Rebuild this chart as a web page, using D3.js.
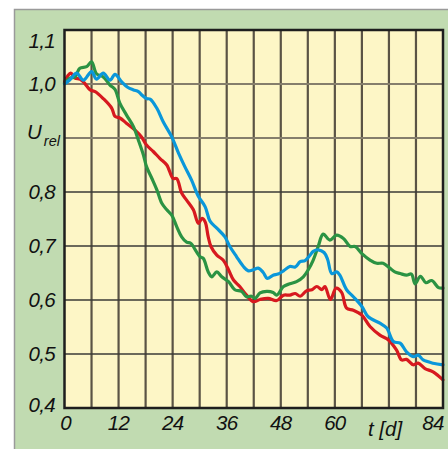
<!DOCTYPE html>
<html><head><meta charset="utf-8">
<script src="https://cdn.jsdelivr.net/npm/d3@7"></script>
<style>html,body{margin:0;padding:0;background:#fff;}svg{display:block;}</style>
</head><body>
<script>
// ---- data ----
const xTicks = [0, 12, 24, 36, 48, 60, 84];
const xGrid = [6, 12, 18, 24, 30, 36, 42, 48, 54, 60, 66, 72, 78];
const yTicks = [1.1, 1.0, 0.8, 0.7, 0.6, 0.5, 0.4];
const yGridLight = [1.0, 0.9];
const yGridDark = [0.8, 0.7, 0.6, 0.5];

const blueT = [0,1.2,2.7,4.2,6.0,7.1,8.6,10.1,11.2,12.7,14.0,15.3,16.4,17.1,18.2,19.0,20.5,21.9,23.8,25.3,26.7,28.2,29.7,31.2,32.3,33.8,35.6,36.7,38.2,39.7,40.8,41.9,43.0,44.1,45.0,46.3,47.4,48.6,50.0,51.2,52.3,53.4,54.5,55.2,56.3,57.6,58.4,59.3,60.4,61.1,62.6,64.1,66.0,67.4,70.0,71.5,73.0,74.5,75.9,77.4,78.5,79.6,81.8,84];
const blueV = [1.000,1.008,1.020,1.007,1.023,1.009,1.020,1.007,1.018,1.004,0.994,0.989,0.986,0.980,0.973,0.972,0.955,0.930,0.902,0.872,0.847,0.822,0.792,0.773,0.746,0.733,0.717,0.699,0.680,0.662,0.654,0.656,0.659,0.651,0.640,0.646,0.648,0.654,0.662,0.661,0.671,0.673,0.683,0.690,0.693,0.688,0.675,0.649,0.652,0.646,0.619,0.606,0.588,0.569,0.557,0.548,0.523,0.520,0.504,0.495,0.498,0.489,0.483,0.480];

const redT = [0,0.7,1.4,2.3,3.4,4.2,5.7,6.8,8.6,10.5,11.2,12.3,13.8,15.6,17.1,18.2,19.7,21.2,22.7,24.1,24.9,26.0,27.1,28.6,29.7,30.5,31.2,31.9,32.5,33.8,35.2,36.4,37.5,38.9,40.4,41.9,43.4,45.2,47.1,48.6,50.0,51.2,52.3,53.7,54.9,56.0,57.1,57.8,59.0,60.3,61.5,62.6,64.1,66.0,67.8,70.0,71.9,73.7,74.8,75.9,77.4,78.5,80.0,81.8,84];
const redV = [1.004,1.015,1.020,1.011,1.009,1.004,0.989,0.986,0.973,0.955,0.940,0.937,0.927,0.915,0.902,0.887,0.875,0.862,0.850,0.825,0.825,0.798,0.785,0.767,0.742,0.751,0.745,0.717,0.699,0.683,0.674,0.656,0.637,0.625,0.609,0.597,0.601,0.603,0.599,0.609,0.609,0.612,0.607,0.617,0.619,0.625,0.619,0.625,0.601,0.622,0.614,0.585,0.581,0.572,0.551,0.535,0.526,0.507,0.489,0.490,0.480,0.483,0.473,0.467,0.452];

const greenT = [0,1.2,2.3,3.4,4.9,6.0,7.1,8.6,10.1,11.2,12.3,13.8,15.3,16.4,17.5,18.2,19.4,20.5,21.6,22.7,23.8,24.9,26.0,27.1,28.0,29.3,30.1,30.8,31.9,32.7,33.8,34.9,36.4,37.8,39.3,40.4,41.5,42.3,43.4,44.9,46.3,47.1,48.6,50.0,51.5,53.0,54.1,55.2,56.3,57.4,58.9,60.4,61.9,63.4,64.5,66.0,67.8,69.3,70.7,72.2,73.3,74.5,75.9,77.0,77.8,79.0,80.2,81.5,83.0,84];
const greenV = [1.001,1.011,1.013,1.029,1.032,1.041,1.019,1.013,0.998,0.990,0.964,0.942,0.921,0.896,0.869,0.847,0.825,0.804,0.779,0.767,0.757,0.736,0.717,0.707,0.705,0.689,0.680,0.677,0.652,0.643,0.652,0.643,0.634,0.619,0.616,0.606,0.607,0.603,0.613,0.616,0.614,0.609,0.625,0.630,0.634,0.643,0.656,0.674,0.699,0.722,0.711,0.720,0.714,0.699,0.699,0.686,0.674,0.668,0.668,0.659,0.652,0.649,0.646,0.648,0.630,0.644,0.632,0.636,0.623,0.622];

const seriesColors = ["#d7191f", "#2b9343", "#0a97da"];

// ---- drawing ----
const W = 448, H = 449;
const svg = d3.select("body").append("svg").attr("width", W).attr("height", H);

svg.append("rect").attr("x", 14).attr("y", 9).attr("width", W - 14).attr("height", H - 9).attr("fill", "#c1dbb1");
svg.append("path").attr("d", `M14.5,${H} V9.5 H${W}`).attr("fill", "none").attr("stroke", "#9a9a9a").attr("stroke-width", 1.5);

const L = 64.5, R = 443, T = 30, B = 408;
const x = d3.scaleLinear().domain([0, 84]).range([L, R]);
const y = d3.scaleLinear().domain([0.4, 1.1]).range([B, T]);

svg.append("rect").attr("x", L).attr("y", T).attr("width", R - L).attr("height", B - T).attr("fill", "#fdf6c6");

const g = svg.append("g");
g.selectAll(".vg").data(xGrid).join("line")
  .attr("x1", d => x(d)).attr("x2", d => x(d)).attr("y1", T).attr("y2", B)
  .attr("stroke", "#5a5345").attr("stroke-width", 2.2);
g.selectAll(".hl").data(yGridLight).join("line")
  .attr("x1", L).attr("x2", R).attr("y1", d => y(d)).attr("y2", d => y(d))
  .attr("stroke", "#857e6c").attr("stroke-width", 2);
g.selectAll(".hd").data(yGridDark).join("line")
  .attr("x1", L).attr("x2", R).attr("y1", d => y(d)).attr("y2", d => y(d))
  .attr("stroke", "#3a3a36").attr("stroke-width", 1.6);

const line = d3.line().x(d => x(d[0])).y(d => y(d[1])).curve(d3.curveCatmullRom.alpha(0.5));
const series = [d3.zip(redT, redV), d3.zip(greenT, greenV), d3.zip(blueT, blueV)];
svg.append("g").selectAll("path").data([0, 1, 2]).join("path")
  .attr("d", i => line(series[i]))
  .attr("fill", "none").attr("stroke", i => seriesColors[i])
  .attr("stroke-width", 3.2).attr("stroke-linejoin", "round").attr("stroke-linecap", "round");

svg.append("rect").attr("x", L).attr("y", T).attr("width", R - L).attr("height", B - T)
  .attr("fill", "none").attr("stroke", "#1e1e1e").attr("stroke-width", 2.5);

const font = "'Liberation Sans', Arial, sans-serif";
const fs = 20.5, ls = "-0.7px";
const fmt = d => d3.format(".1f")(d).replace(".", ",");
const yOff = d => d === 1.1 ? 11 : (d === 0.4 ? -3 : 0);
svg.append("g").selectAll("text").data(yTicks).join("text")
  .attr("x", 55).attr("y", d => y(d) + yOff(d))
  .attr("dy", "0.36em").attr("text-anchor", "end").attr("letter-spacing", ls)
  .attr("font-family", font).attr("font-style", "italic").attr("font-size", fs).attr("fill", "#111")
  .text(fmt);

const ul = svg.append("text").attr("x", 27).attr("y", y(0.9) + 1)
  .attr("font-family", font).attr("font-style", "italic").attr("fill", "#111");
ul.append("tspan").attr("font-size", fs).text("U");
ul.append("tspan").attr("font-size", 14.5).attr("dx", 2).attr("dy", 7).text("rel");

const xOff = d => d === 84 ? -10 : 0;
svg.append("g").selectAll("text").data(xTicks).join("text")
  .attr("x", d => x(d) + xOff(d) + (d === 0 ? 1 : 0)).attr("y", 429.5)
  .attr("text-anchor", "middle").attr("letter-spacing", ls)
  .attr("font-family", font).attr("font-style", "italic").attr("font-size", fs).attr("fill", "#111")
  .text(d => d);

svg.append("text").attr("x", 385).attr("y", 436).attr("text-anchor", "middle")
  .attr("font-family", font).attr("font-style", "italic").attr("font-size", fs).attr("fill", "#111")
  .text("t [d]");
</script>
</body></html>
